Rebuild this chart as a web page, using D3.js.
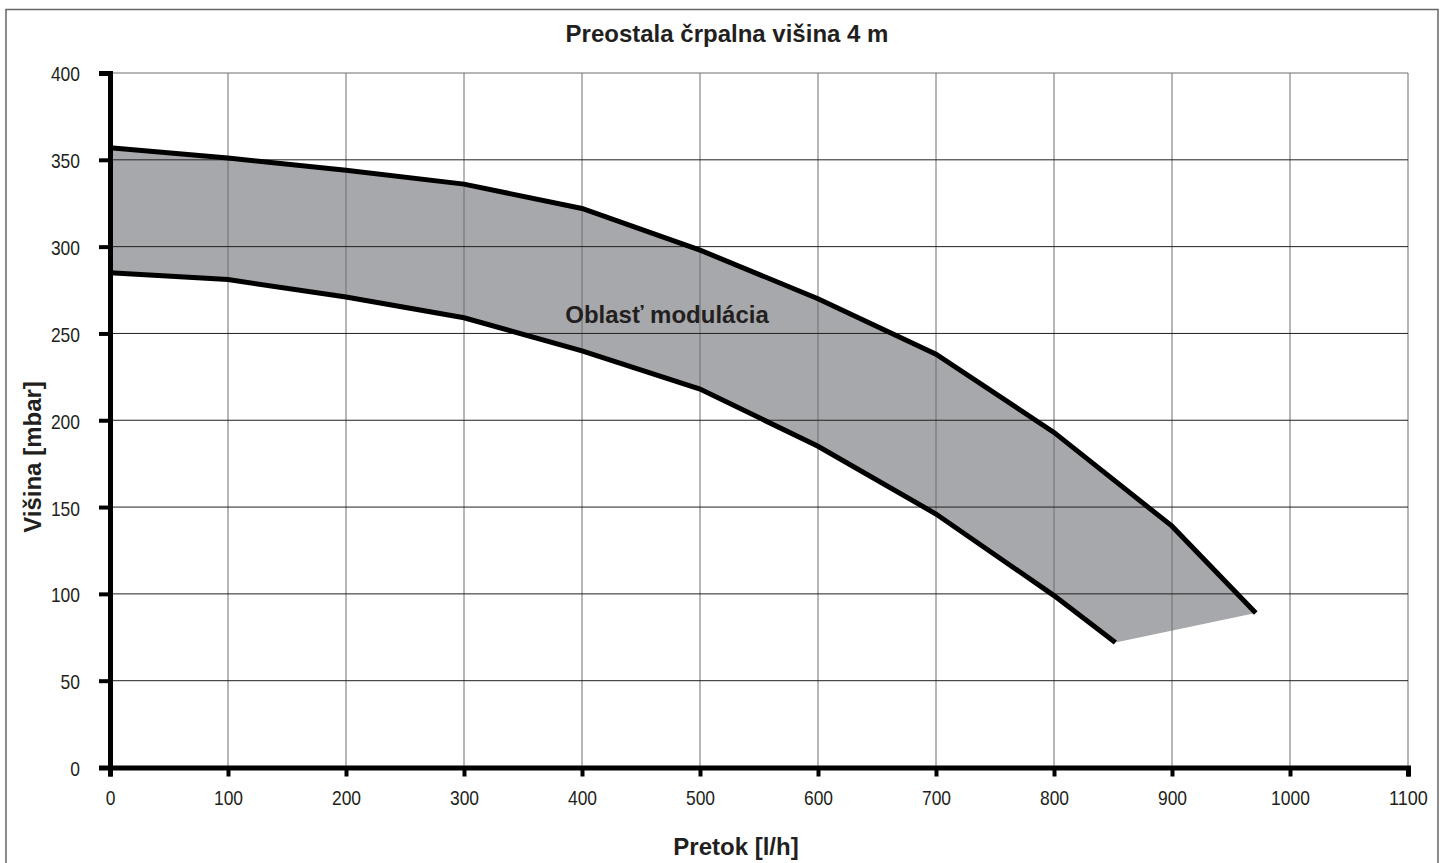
<!DOCTYPE html>
<html>
<head>
    <meta charset="utf-8">
    <script src="https://cdn.jsdelivr.net/npm/d3@7"></script>
    <style>
        body { margin: 0; background: #fff; }
        svg text { font-family: "Liberation Sans", Arial, sans-serif; fill: #231f20; }
    </style>
</head>
<body>
    <script>
        // chart values
        var flowTicks = [0, 100, 200, 300, 400, 500, 600, 700, 800, 900, 1000, 1100];
        var headTicks = [0, 50, 100, 150, 200, 250, 300, 350, 400];
        var upperFlow = [0, 100, 200, 300, 400, 500, 600, 700, 800, 900, 971];
        var upperHead = [357, 351, 344, 336, 322, 298, 270, 238, 193, 139, 89];
        var lowerFlow = [0, 100, 200, 300, 400, 500, 600, 700, 800, 852];
        var lowerHead = [285, 281, 271, 259, 240, 218, 185, 146, 99, 72];
        var title = "Preostala črpalna višina 4 m";
        var areaLabel = "Oblasť modulácia";
        var xTitle = "Pretok [l/h]";
        var yTitle = "Višina [mbar]";

        var width = 1445, height = 863;
        var plotLeft = 110, plotRight = 1408, plotTop = 73, plotBottom = 767.5;

        var xScale = d3.scaleLinear().domain([0, 1100]).range([plotLeft, plotRight]);
        var yScale = d3.scaleLinear().domain([0, 400]).range([plotBottom, plotTop]);

        var svg = d3.select("body").append("svg")
            .attr("width", width)
            .attr("height", height);

        // outer frame
        svg.append("rect")
            .attr("x", 6).attr("y", 9.5)
            .attr("width", 1432).attr("height", 870)
            .attr("fill", "none")
            .attr("stroke", "#666")
            .attr("stroke-width", 1.5);

        var upper = upperFlow.map(function (f, i) { return [f, upperHead[i]]; });
        var lower = lowerFlow.map(function (f, i) { return [f, lowerHead[i]]; });

        var line = d3.line()
            .x(function (d) { return xScale(d[0]); })
            .y(function (d) { return yScale(d[1]); });

        // shaded modulation zone
        var zone = upper.concat(lower.slice().reverse());
        svg.append("path")
            .attr("d", line(zone) + "Z")
            .attr("fill", "#a7a8ab");

        // grid
        svg.append("g").selectAll("line")
            .data(flowTicks.slice(1))
            .enter().append("line")
            .attr("x1", function (d) { return xScale(d); })
            .attr("x2", function (d) { return xScale(d); })
            .attr("y1", yScale(400))
            .attr("y2", yScale(0))
            .attr("stroke", "#6d6e71")
            .attr("stroke-width", 1);
        svg.append("g").selectAll("line")
            .data(headTicks.slice(1))
            .enter().append("line")
            .attr("x1", xScale(0))
            .attr("x2", xScale(1100))
            .attr("y1", function (d) { return yScale(d); })
            .attr("y2", function (d) { return yScale(d); })
            .attr("stroke", function (d) { return d === 400 ? "#6d6e71" : "#231f20"; })
            .attr("stroke-width", 1);

        // curves
        [upper, lower].forEach(function (pts) {
            svg.append("path")
                .attr("d", line(pts))
                .attr("fill", "none")
                .attr("stroke", "#000")
                .attr("stroke-width", 5)
                .attr("stroke-linejoin", "miter");
        });

        // axes
        var xAxis = d3.axisBottom(xScale).tickValues(flowTicks).tickFormat(d3.format("d"))
            .tickSize(9).tickPadding(14);
        var xAxisNodes = svg.append("g")
            .attr("transform", "translate(0," + plotBottom + ")")
            .call(xAxis);
        var yAxis = d3.axisLeft(yScale).tickValues(headTicks).tickFormat(d3.format("d"))
            .tickSize(11).tickPadding(19);
        var yAxisNodes = svg.append("g")
            .attr("transform", "translate(" + plotLeft + ",0)")
            .call(yAxis);
        styleAxis(xAxisNodes);
        styleAxis(yAxisNodes);
        yAxisNodes.selectAll(".tick text").attr("dy", "0.38em");

        svg.append("text")
            .attr("x", 727).attr("y", 42)
            .attr("text-anchor", "middle")
            .attr("font-size", 24).attr("font-weight", "bold")
            .text(title);
        svg.append("text")
            .attr("x", 667).attr("y", 323)
            .attr("text-anchor", "middle")
            .attr("font-size", 24).attr("font-weight", "bold")
            .text(areaLabel);
        svg.append("text")
            .attr("x", 736).attr("y", 855)
            .attr("text-anchor", "middle")
            .attr("font-size", 24).attr("font-weight", "bold")
            .text(xTitle);
        svg.append("text")
            .attr("transform", "translate(41,457) rotate(-90)")
            .attr("text-anchor", "middle")
            .attr("font-size", 24).attr("font-weight", "bold")
            .text(yTitle);

        function styleAxis(nodes) {
            nodes.selectAll(".domain")
                .attr("stroke", "#000")
                .attr("stroke-width", 5);
            nodes.selectAll(".tick line")
                .attr("stroke", "#000")
                .attr("stroke-width", 4);
            nodes.selectAll(".tick text")
                .attr("font-family", "'Liberation Sans', Arial, sans-serif")
                .attr("font-size", 21)
                .attr("fill", "#231f20")
                .attr("lengthAdjust", "spacingAndGlyphs")
                .attr("textLength", function (d) { return String(d).length * 9.7; });
        }
    </script>
</body>
</html>
